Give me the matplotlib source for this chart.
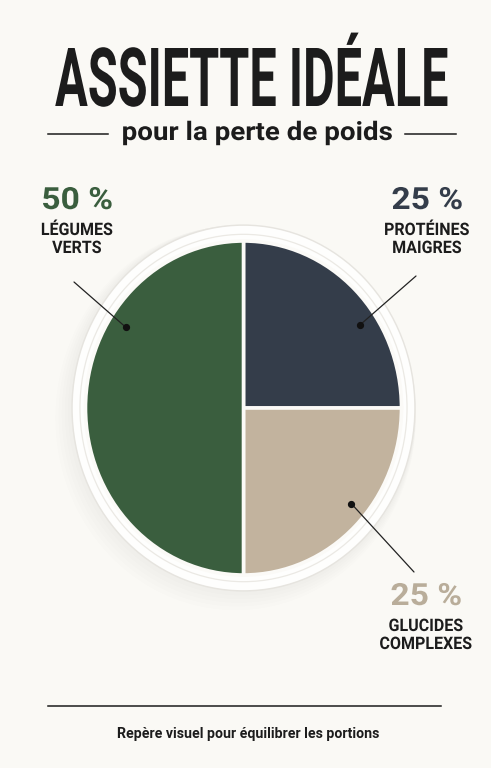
import numpy as np
import matplotlib
matplotlib.use("Agg")
import matplotlib.pyplot as plt
from matplotlib.patches import Ellipse
from matplotlib.patheffects import AbstractPathEffect
from matplotlib.transforms import Affine2D

# data
categories = ["PROTÉINES\nMAIGRES", "GLUCIDES\nCOMPLEXES", "LÉGUMES\nVERTS"]
shares = [25, 25, 50]
colors = ["#343d4a", "#c2b39e", "#3a5e3e"]
pct_labels = [f"{v} %" for v in shares]
title = "ASSIETTE IDÉALE"
subtitle = "pour la perte de poids"
footer = "Repère visuel pour équilibrer les portions"

BG = "#faf9f5"
INK = "#1c1c1c"


class Stretch(AbstractPathEffect):
    # scale each drawn line of glyphs around its own centre (x) and baseline (y)
    def __init__(self, sx=1.0, sy=1.0):
        super().__init__()
        self.sx, self.sy = sx, sy

    def draw_path(self, renderer, gc, tpath, affine, rgbFace=None):
        ext = tpath.get_extents()
        mx = 0.5 * (ext.x0 + ext.x1)
        t = Affine2D().translate(-mx, 0).scale(self.sx, self.sy).translate(mx, 0)
        renderer.draw_path(gc, tpath, t + affine, rgbFace)


W, H = 491, 768
fig = plt.figure(figsize=(W / 100, H / 100), dpi=100, facecolor=BG)

# background axes in pixel units for text and rules
bg = fig.add_axes([0, 0, 1, 1])
bg.set_xlim(0, W)
bg.set_ylim(H, 0)
bg.axis("off")

# title: fit into a tall condensed box (x 55..448, cap height 58 px)
t_fs = 30
tt = bg.text(251.5, 106, title, ha="center", va="baseline", fontsize=t_fs,
             fontweight="bold", family="Roboto", color=INK)
r = fig.canvas.get_renderer()
tw = tt.get_window_extent(r).width
cap_px = 0.711 * t_fs * 100 / 72
tt.set_path_effects([Stretch(393 / tw, 58 / cap_px)])

# subtitle with side rules
bg.text(257.5, 140, subtitle, ha="center", va="baseline", fontsize=18.5, fontweight="bold",
        family="Roboto", color=INK, path_effects=[Stretch(1.08, 1.0)])
bg.plot([48, 108], [134, 134], color=INK, lw=1.1)
bg.plot([405, 456], [134, 134], color=INK, lw=1.1)

# footer
bg.plot([48, 441], [706, 706], color=INK, lw=1.1)
bg.text(248.5, 738, footer, ha="center", va="baseline", fontsize=10.2, fontweight="bold",
        family="Roboto", color=INK)

# pie axes: centre (243.5, 408) px, radii 158 x 167 px
cx, cy, rx, ry, lim = 243.5, 408, 158, 167, 1.3
pie_ax = fig.add_axes([(cx - lim * rx) / W, (H - cy - lim * ry) / H,
                       2 * lim * rx / W, 2 * lim * ry / H])
pie_ax.patch.set_alpha(0)

# plate shadow + plate
for k in range(6):
    pie_ax.add_patch(Ellipse((-0.01 * k, -0.012 * k),
                             2 * (1.09 + 0.01 * k), 2 * (1.10 + 0.01 * k),
                             facecolor="#77736a", alpha=0.01, lw=0, zorder=0))
pie_ax.add_patch(Ellipse((0, 0), 2 * 1.085, 2 * 1.095, facecolor="#fefefd",
                         edgecolor="#e6e4df", lw=1.0, zorder=1))
pie_ax.add_patch(Ellipse((0, 0), 2 * 1.035, 2 * 1.04, facecolor="none",
                         edgecolor="#ebe9e4", lw=0.9, zorder=1))

wedges, _ = pie_ax.pie(shares, colors=colors, startangle=90, counterclock=False,
                       radius=1.0, wedgeprops=dict(edgecolor="#fbfaf7", linewidth=2.6))
for w in wedges:
    w.set_zorder(2)
pie_ax.set_aspect("auto")
pie_ax.set_xlim(-lim, lim)
pie_ax.set_ylim(-lim, lim)
pie_ax.axis("off")

# labels and leader lines
anchor_deg = [34, -40, 147]
anchor_r = 0.89
label_pos = [(427, 209), (426, 605), (77, 209)]
line_end = [(416, 276), (414, 572), (74, 282)]
pct_colors = ["#343d4a", "#b9ad9a", "#3a5e3e"]

for i, cat in enumerate(categories):
    a = np.deg2rad(anchor_deg[i])
    px, py = anchor_r * np.cos(a), anchor_r * np.sin(a)
    pie_ax.plot(px, py, "o", color="#111111", ms=4.2, zorder=5)
    pie_ax.annotate("", xy=(px, py), xycoords="data",
                    xytext=line_end[i], textcoords=bg.transData,
                    arrowprops=dict(arrowstyle="-", lw=0.9, color="#222222",
                                    shrinkA=0, shrinkB=0), zorder=4)
    lx, ly = label_pos[i]
    bg.text(lx, ly, pct_labels[i], ha="center", va="baseline", fontsize=22,
            fontweight="bold", family="Roboto", color=pct_colors[i],
            path_effects=[Stretch(1.1, 1.0)])
    l1, l2 = cat.split("\n")
    for dy, s in ((26, l1), (44, l2)):
        bg.text(lx, ly + dy, s, ha="center", va="baseline", fontsize=12.4,
                fontweight="bold", family="Roboto", color=INK,
                path_effects=[Stretch(0.93, 1.0)])

fig.savefig("out.png", dpi=100, facecolor=BG)
